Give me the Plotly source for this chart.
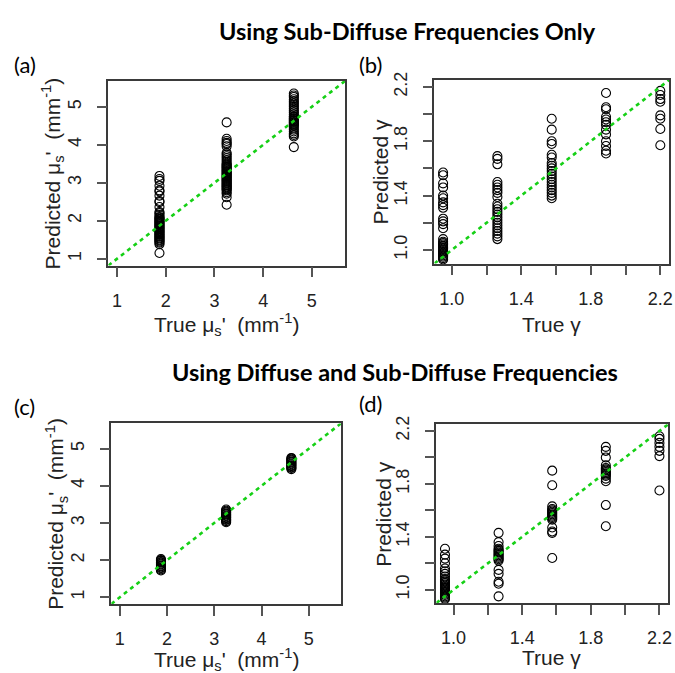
import plotly.graph_objects as go

# ---------------- data ----------------
mus_true = [1.87, 3.25, 4.63]
gam_true = [0.95, 1.2625, 1.575, 1.8875, 2.2]

# (a) sub-diffuse only, mu_s'
a_pred_1 = [1.15, 1.38, 1.42, 1.45, 1.48, 1.5, 1.53, 1.55, 1.58, 1.6, 1.63, 1.65, 1.68, 1.7, 1.73,
            1.75, 1.78, 1.8, 1.83, 1.85, 1.88, 1.9, 1.93, 1.95, 1.98, 2.0, 2.03, 2.05, 2.08, 2.1,
            2.15, 2.2, 2.23, 2.36, 2.49, 2.52, 2.66, 2.77, 2.8, 2.92, 3.05, 3.1, 3.18]
a_pred_2 = [2.42, 2.62, 2.71, 2.75, 2.8, 2.83, 2.85, 2.88, 2.9, 2.93, 2.95, 2.98, 3.0, 3.03, 3.05,
            3.08, 3.1, 3.13, 3.15, 3.18, 3.2, 3.23, 3.25, 3.28, 3.3, 3.33, 3.35, 3.38, 3.4, 3.43,
            3.45, 3.48, 3.5, 3.55, 3.6, 3.65, 3.7, 3.75, 3.79, 3.96, 4.02, 4.05, 4.1, 4.16, 4.59]
a_pred_3 = [3.94, 4.22, 4.26, 4.3, 4.35, 4.4, 4.45, 4.5, 4.53, 4.55, 4.58, 4.6, 4.63, 4.65, 4.68,
            4.7, 4.73, 4.75, 4.8, 4.85, 4.9, 4.95, 5.0, 5.05, 5.1, 5.15, 5.2, 5.26, 5.3, 5.35]

# (b) sub-diffuse only, gamma
b_pred_1 = [0.93, 0.94, 0.95, 0.96, 0.97, 0.98, 0.99, 1.0, 1.01, 1.02, 1.03, 1.04, 1.05, 1.06,
            1.08, 1.16, 1.19, 1.21, 1.23, 1.31, 1.33, 1.35, 1.38, 1.40, 1.46, 1.49, 1.55, 1.57]
b_pred_2 = [1.08, 1.1, 1.12, 1.14, 1.16, 1.18, 1.2, 1.22, 1.24, 1.26, 1.28, 1.3, 1.32, 1.34,
            1.39, 1.42, 1.44, 1.46, 1.48, 1.50, 1.63, 1.67, 1.69]
b_pred_3 = [1.38, 1.40, 1.42, 1.44, 1.46, 1.48, 1.50, 1.52, 1.54, 1.56, 1.58, 1.60, 1.62, 1.64,
            1.68, 1.70, 1.78, 1.80, 1.885, 1.965]
b_pred_4 = [1.71, 1.73, 1.765, 1.80, 1.85, 1.885, 1.92, 1.94, 1.96, 1.98, 2.035, 2.05, 2.155]
b_pred_5 = [1.77, 1.89, 1.965, 1.99, 2.09, 2.11, 2.14, 2.17]

# (c) diffuse + sub-diffuse, mu_s'
c_pred_1 = [1.72, 1.75, 1.78, 1.8, 1.83, 1.85, 1.88, 1.9, 1.93, 1.95, 1.98, 2.0, 2.03]
c_pred_2 = [3.02, 3.05, 3.08, 3.1, 3.13, 3.15, 3.18, 3.2, 3.23, 3.25, 3.28, 3.3, 3.33, 3.36]
c_pred_3 = [4.45, 4.48, 4.5, 4.53, 4.55, 4.58, 4.6, 4.63, 4.65, 4.68, 4.7, 4.73, 4.75]

# (d) diffuse + sub-diffuse, gamma
d_pred_1 = [0.93, 0.94, 0.95, 0.96, 0.97, 0.98, 0.99, 1.0, 1.01, 1.02, 1.03, 1.04, 1.05, 1.06,
            1.07, 1.08, 1.1, 1.12, 1.14, 1.16, 1.2, 1.235, 1.265, 1.31]
d_pred_2 = [0.95, 1.045, 1.06, 1.12, 1.15, 1.22, 1.23, 1.24, 1.25, 1.26, 1.27, 1.28, 1.29, 1.3,
            1.31, 1.33, 1.36, 1.43]
d_pred_3 = [1.24, 1.43, 1.44, 1.47, 1.53, 1.54, 1.55, 1.56, 1.57, 1.58, 1.59, 1.6, 1.61, 1.63,
            1.79, 1.90]
d_pred_4 = [1.48, 1.64, 1.82, 1.84, 1.86, 1.87, 1.88, 1.89, 1.9, 1.91, 1.92, 1.94, 2.0, 2.05, 2.08]
d_pred_5 = [1.75, 2.01, 2.05, 2.08, 2.11, 2.14, 2.16]

mus_range = [0.82, 5.68]
gam_range = [0.90, 2.25]
mus_ticks = [1, 2, 3, 4, 5]
mus_ticktext = ["1", "2", "3", "4", "5"]
gam_ticks = [1.0, 1.2, 1.4, 1.6, 1.8, 2.0, 2.2]
gam_ticktext = ["1.0", "", "1.4", "", "1.8", "", "2.2"]

panel_labels = ["(a)", "(b)", "(c)", "(d)"]
title_top = "Using Sub-Diffuse Frequencies Only"
title_bottom = "Using Diffuse and Sub-Diffuse Frequencies"
mus_xtitle = "True μ<sub>s</sub>'  (mm<sup>-1</sup>)"
mus_ytitle = "Predicted μ<sub>s</sub>'  (mm<sup>-1</sup>)"
gam_xtitle = "True γ"
gam_ytitle = "Predicted γ"

# ---------------- figure ----------------
W, H = 675, 673
fig = go.Figure()

AXF = "Liberation Sans, Arial, sans-serif"
GREEN = "#16d016"


def px_x(v):
    return v / W


def px_y(v):
    return 1 - v / H


panels = [
    ("1", (109, 347), (73, 260), mus_true, [a_pred_1, a_pred_2, a_pred_3], mus_range, mus_ticks, mus_ticktext),
    ("2", (437, 673), (72, 258), gam_true, [b_pred_1, b_pred_2, b_pred_3, b_pred_4, b_pred_5], gam_range, gam_ticks, gam_ticktext),
    ("3", (112, 343), (420, 603), mus_true, [c_pred_1, c_pred_2, c_pred_3], mus_range, mus_ticks, mus_ticktext),
    ("4", (439, 672), (421, 602), gam_true, [d_pred_1, d_pred_2, d_pred_3, d_pred_4, d_pred_5], gam_range, gam_ticks, gam_ticktext),
]

layout = {}
for name, (x0, x1), (yt, yb), truth, preds, rng, tv, tt in panels:
    xa = "x" if name == "1" else "x" + name
    ya = "y" if name == "1" else "y" + name
    xs, ys = [], []
    for t, p in zip(truth, preds):
        xs += [t] * len(p)
        ys += p
    fig.add_trace(go.Scatter(
        x=xs, y=ys, mode="markers", xaxis=xa, yaxis=ya, showlegend=False,
        marker=dict(symbol="circle-open", size=9, color="black", line=dict(width=1.1, color="black")),
        cliponaxis=False,
    ))
    fig.add_trace(go.Scatter(
        x=rng, y=rng, mode="lines", xaxis=xa, yaxis=ya, showlegend=False,
        line=dict(color=GREEN, width=2.6, dash="4px,4px"),
    ))
    common = dict(
        range=rng, showgrid=False, zeroline=False, showline=True, mirror=True,
        linecolor="#3a3a3a", linewidth=1.5, ticks="outside", ticklen=10, tickwidth=1.5,
        tickcolor="#555555", tickvals=tv, ticktext=tt, ticklabeloverflow="allow",
        tickfont=dict(family=AXF, size=18, color="#222222"),
    )
    layout["xaxis" + ("" if name == "1" else name)] = dict(
        domain=[px_x(x0), px_x(x1)], anchor=ya, ticklabelstandoff=8, **common)
    layout["yaxis" + ("" if name == "1" else name)] = dict(
        domain=[px_y(yb), px_y(yt)], anchor=xa, tickangle=-90, ticklabelstandoff=8, **common)

fig.update_layout(**layout)

ann = []
axis_titles = [
    (mus_xtitle, 228, 320, 0), (mus_ytitle, 53, 167, -90),
    (gam_xtitle, 555, 320, 0), (gam_ytitle, 383, 165, -90),
    (mus_xtitle, 228, 659, 0), (mus_ytitle, 56, 512, -90),
    (gam_xtitle, 555, 657, 0), (gam_ytitle, 385, 512, -90),
]
for txt, x, y, ang in axis_titles:
    ann.append(dict(text=txt, x=px_x(x), y=px_y(y), xref="paper", yref="paper",
                    xanchor="center", yanchor="middle", showarrow=False, textangle=ang,
                    font=dict(family=AXF, size=21, color="#222222")))
for txt, x, y in zip(panel_labels, [25, 373, 25, 373], [56, 56, 403, 400]):
    ann.append(dict(text=txt, x=px_x(x), y=px_y(y), xref="paper", yref="paper",
                    xanchor="center", yanchor="middle", showarrow=False,
                    font=dict(family="Lato, Open Sans, sans-serif", size=22, color="black")))
for txt, x, y in [(title_top, 410, 22), (title_bottom, 397, 368)]:
    ann.append(dict(text="<b>" + txt + "</b>", x=px_x(x), y=px_y(y), xref="paper", yref="paper",
                    xanchor="center", yanchor="middle", showarrow=False,
                    font=dict(family="Lato, Open Sans, sans-serif", size=23.5, color="black")))

fig.update_layout(
    width=W, height=H, margin=dict(l=0, r=0, t=0, b=0),
    paper_bgcolor="white", plot_bgcolor="white", annotations=ann,
)

fig.write_html("out.html")
